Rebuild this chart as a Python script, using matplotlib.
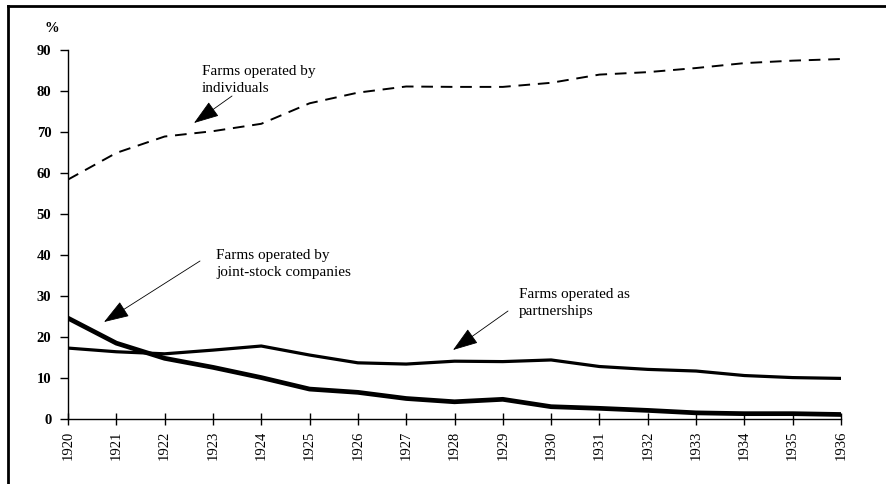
import matplotlib
matplotlib.use("Agg")
import matplotlib.pyplot as plt
from matplotlib.lines import Line2D

years = list(range(1920, 1937))
individuals = [58.4, 64.9, 68.9, 70.2, 72.0, 77.0, 79.6, 81.1, 81.0, 81.0, 82.0, 84.0, 84.6, 85.6, 86.8, 87.4, 87.8]
partnerships = [17.3, 16.4, 15.9, 16.8, 17.8, 15.6, 13.7, 13.4, 14.1, 14.0, 14.4, 12.8, 12.1, 11.7, 10.6, 10.1, 9.9]
joint_stock = [24.6, 18.5, 14.8, 12.6, 10.1, 7.3, 6.5, 5.0, 4.2, 4.8, 3.0, 2.6, 2.1, 1.5, 1.3, 1.3, 1.1]
y_ticks = [0, 10, 20, 30, 40, 50, 60, 70, 80, 90]

serif = ["Liberation Serif", "DejaVu Serif"]

fig = plt.figure(figsize=(8.86, 4.84), dpi=100)
W, H = 886, 484
ax = fig.add_axes([68 / W, 1 - 419 / H, (841 - 68) / W, (419 - 50) / H])

ax.plot(years, individuals, color="black", lw=1.4, dashes=(6, 4))
ax.plot(years, partnerships, color="black", lw=2.3, solid_joinstyle="round")
ax.plot(years, joint_stock, color="black", lw=3.4, solid_joinstyle="round")

ax.set_xlim(1920, 1936)
ax.set_ylim(0, 90)
ax.set_xticks(years)
ax.set_xticklabels([str(y) for y in years], rotation=90, fontfamily=serif, fontsize=10.5)
ax.set_yticks(y_ticks)
ax.set_yticklabels([str(v) for v in y_ticks], fontfamily=serif, fontsize=10.5, fontweight="bold")
ax.tick_params(axis="x", direction="inout", length=9, width=1, pad=4)
ax.tick_params(axis="y", direction="out", length=6, width=1, pad=6)
for s in ["top", "right"]:
    ax.spines[s].set_visible(False)
ax.spines["left"].set_linewidth(1)
ax.spines["bottom"].set_linewidth(1)

def fig_xy(x, y):
    return (x / W, 1 - y / H)

# '%' label
fig.text(*fig_xy(45, 28), "%", fontfamily=serif, fontsize=10.5, fontweight="bold", ha="left", va="center")

arrow_kw = dict(arrowstyle="-|>,head_length=1.6,head_width=0.55", color="black", lw=0.6, shrinkA=0, shrinkB=0)

annots = [
    ("Farms operated by\nindividuals", (202, 80), (232, 96), (194, 123)),
    ("Farms operated by\njoint-stock companies", (216, 264), (200, 261), (104, 322)),
    ("Farms operated as\npartnerships", (519, 303), (508, 311), (453, 350)),
]
for txt, tpos, tail, tip in annots:
    fig.text(*fig_xy(*tpos), txt, fontfamily=serif, fontsize=11, ha="left", va="center", linespacing=1.45)
    ax.annotate("", xy=fig_xy(*tip), xycoords="figure fraction",
                xytext=fig_xy(*tail), textcoords="figure fraction", arrowprops=arrow_kw)

# scan frame: top and left edges
fig.add_artist(Line2D([8 / W, 1.0], [1 - 6 / H, 1 - 6 / H], transform=fig.transFigure, color="black", lw=2))
fig.add_artist(Line2D([8 / W, 8 / W], [0, 1 - 6 / H], transform=fig.transFigure, color="black", lw=2))

fig.savefig("out.png", dpi=100)
